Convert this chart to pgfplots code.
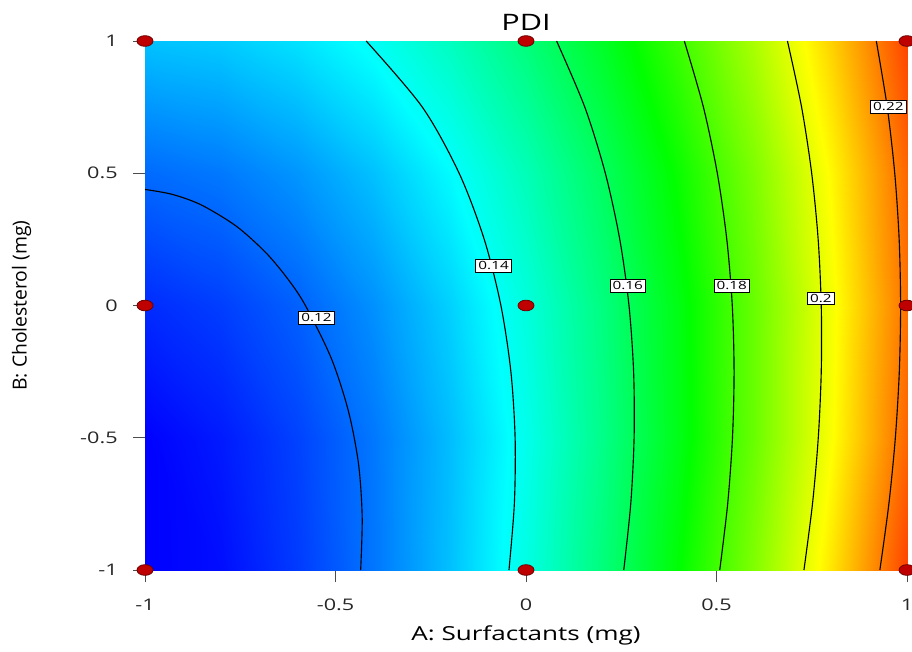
\documentclass[border=0pt]{standalone}
\usepackage{fontspec}
\setmainfont{Open Sans}[FakeStretch=1.35]
\newfontfamily\ylabfont{Open Sans}
\usepackage{pgfplots}
\usepackage{pgfplotstable}
\pgfplotsset{compat=1.18}

\pgfplotstableread{
A B P
-1 -1 0.1048
-0.8 -1 0.10862
-0.6 -1 0.11432
-0.4 -1 0.1219
-0.2 -1 0.13136
0 -1 0.1427
0.2 -1 0.15592
0.4 -1 0.17102
0.6 -1 0.188
0.8 -1 0.20686
1 -1 0.2276
-1 -0.5 0.10709
-0.8 -0.5 0.11024
-0.6 -0.5 0.11527
-0.4 -0.5 0.12218
-0.2 -0.5 0.13097
0 -0.5 0.14164
0.2 -0.5 0.15419
0.4 -0.5 0.16862
0.6 -0.5 0.18493
0.8 -0.5 0.20312
1 -0.5 0.22319
-1 0 0.1123
-0.8 0 0.11478
-0.6 0 0.11914
-0.4 0 0.12538
-0.2 0 0.1335
0 0 0.1435
0.2 0 0.15538
0.4 0 0.16914
0.6 0 0.18478
0.8 0 0.2023
1 0 0.2217
-1 0.5 0.12044
-0.8 0.5 0.12225
-0.6 0.5 0.12594
-0.4 0.5 0.13151
-0.2 0.5 0.13896
0 0.5 0.14829
0.2 0.5 0.1595
0.4 0.5 0.17259
0.6 0.5 0.18756
0.8 0.5 0.20441
1 0.5 0.22314
-1 1 0.1315
-0.8 1 0.13264
-0.6 1 0.13566
-0.4 1 0.14056
-0.2 1 0.14734
0 1 0.156
0.2 1 0.16654
0.4 1 0.17896
0.6 1 0.19326
0.8 1 0.20944
1 1 0.2275
}\pdisurf

\begin{document}
\begin{tikzpicture}
\begin{axis}[
  at={(0,0)}, anchor=south west,
  scale only axis, width=571.5pt, height=396.75pt,
  xmin=-1, xmax=1, ymin=-1, ymax=1,
  xtick={-1,-0.5,0,0.5,1}, ytick={-1,-0.5,0,0.5,1},
  xticklabels={-1,-0.5,0,0.5,1}, yticklabels={-1,-0.5,0,0.5,1},
  tick align=outside, xtick pos=bottom, ytick pos=left,
  major tick length=9pt,
  every tick/.style={draw=black!70, line width=0.7pt},
  axis line style={draw=black!60, line width=0.7pt},
  ticklabel style={font=\fontsize{12}{14}\selectfont, text=black!85},
  xticklabel style={yshift=-9pt},
  yticklabel style={xshift=-8pt},
  colormap={pdi}{rgb255=(0,0,255) rgb255=(0,255,255) rgb255=(0,255,0) rgb255=(255,255,0) rgb255=(255,0,0)},
  point meta min=0.107, point meta max=0.236,
  title={PDI},
  title style={font=\fontsize{17}{20}\selectfont, at={(axis description cs:0.5,1.02)}, anchor=center},
  xlabel={A: Surfactants (mg)},
  xlabel style={font=\fontsize{14.5}{17}\selectfont, at={(axis description cs:0.5,-0.124)}, anchor=center},
  ylabel={B: Cholesterol (mg)},
  ylabel style={font=\ylabfont\fontsize{14.5}{17}\selectfont, at={(axis description cs:-0.162,0.5)}, anchor=center, rotate=0},
  clip=false,
  /pgf/number format/assume math mode=true,
]
\addplot[surf, shader=interp, mesh/cols=11, point meta=\thisrow{P}] table[x=A, y=B]{\pdisurf};

\addplot[black, line width=0.85pt, smooth] coordinates {(-1,0.4388) (-0.928,0.42) (-0.852,0.38) (-0.7605,0.3) (-0.683,0.2) (-0.625,0.1) (-0.579,0) (-0.511,-0.2) (-0.466,-0.4) (-0.4395,-0.6) (-0.43,-0.8) (-0.434,-1)};
\addplot[black, line width=0.85pt, smooth] coordinates {(-0.4195,1) (-0.2721,0.75) (-0.1755,0.5) (-0.1096,0.25) (-0.0659,0) (-0.0397,-0.25) (-0.0286,-0.5) (-0.0306,-0.75) (-0.0447,-1)};
\addplot[black, line width=0.85pt, smooth] coordinates {(0.0802,1) (0.1543,0.75) (0.2082,0.5) (0.2461,0.25) (0.2703,0) (0.2824,-0.25) (0.2837,-0.5) (0.2749,-0.75) (0.2566,-1)};
\addplot[black, line width=0.85pt, smooth] coordinates {(0.4155,1) (0.4656,0.75) (0.5021,0.5) (0.5270,0.25) (0.5414,0) (0.5461,-0.25) (0.5419,-0.5) (0.5293,-0.75) (0.5085,-1)};
\addplot[black, line width=0.85pt, smooth] coordinates {(0.6862,1) (0.7233,0.75) (0.7498,0.5) (0.7668,0.25) (0.7749,0) (0.7749,-0.25) (0.7671,-0.5) (0.7519,-0.75) (0.7295,-1)};
\addplot[black, line width=0.85pt, smooth] coordinates {(0.9194,1) (0.9481,0.75) (0.9678,0.5) (0.9794,0.25) (0.9832,0) (0.9798,-0.25) (0.9694,-0.5) (0.9524,-0.75) (0.9288,-1)};

\addplot[only marks, mark=none, nodes near coords, point meta=explicit symbolic,
  every node near coord/.style={anchor=center, draw=black, line width=0.6pt, fill=white, inner xsep=2pt, inner ysep=1.6pt, font=\fontsize{8.5}{9}\selectfont}]
  coordinates {(-0.55,-0.047)[0.12] (-0.085,0.15)[0.14] (0.267,0.075)[0.16] (0.540,0.075)[0.18] (0.774,0.027)[0.2] (0.951,0.752)[0.22]};

\addplot[only marks, mark=*, mark size=4pt, mark options={xscale=1.5, fill={rgb,255:red,190;green,0;blue,0}, draw={rgb,255:red,110;green,0;blue,0}, line width=0.6pt}]
  coordinates {(-1,-1) (0,-1) (1,-1) (-1,0) (0,0) (1,0) (-1,1) (0,1) (1,1)};
\end{axis}
\pgfresetboundingbox
\useasboundingbox (-108.75pt,-60.75pt) rectangle (575.25pt,427.5pt);
\end{tikzpicture}
\end{document}
